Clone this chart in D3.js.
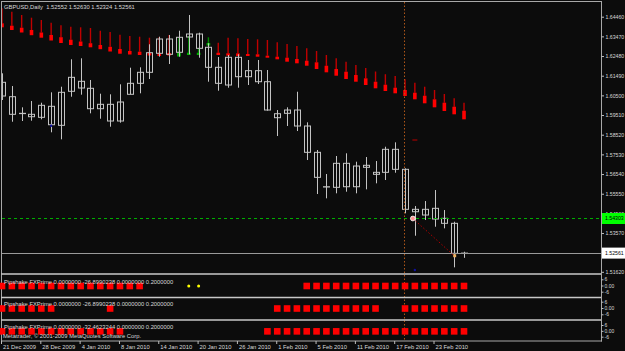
<!DOCTYPE html>
<html><head><meta charset="utf-8">
<script src="https://cdn.jsdelivr.net/npm/d3@7"></script>
<style>
html,body{margin:0;padding:0;background:#0c0c0c;overflow:hidden}
svg{display:block}
</style></head><body>
<svg id="c" width="625" height="351"></svg>
<script>
// ---------- DATA ----------
const dates = ["21 Dec 2009","22 Dec 2009","23 Dec 2009","24 Dec 2009","28 Dec 2009","29 Dec 2009","30 Dec 2009","31 Dec 2009",
"4 Jan 2010","5 Jan 2010","6 Jan 2010","7 Jan 2010","8 Jan 2010","11 Jan 2010","12 Jan 2010","13 Jan 2010","14 Jan 2010","15 Jan 2010",
"18 Jan 2010","19 Jan 2010","20 Jan 2010","21 Jan 2010","22 Jan 2010","25 Jan 2010","26 Jan 2010","27 Jan 2010","28 Jan 2010","29 Jan 2010",
"1 Feb 2010","2 Feb 2010","3 Feb 2010","4 Feb 2010","5 Feb 2010","8 Feb 2010","9 Feb 2010","10 Feb 2010","11 Feb 2010","12 Feb 2010",
"15 Feb 2010","16 Feb 2010","17 Feb 2010","18 Feb 2010","19 Feb 2010","22 Feb 2010","23 Feb 2010","24 Feb 2010","25 Feb 2010","26 Feb 2010"];

const open  = [1.61158,1.60433,1.59597,1.59547,1.59396,1.59950,1.58993,1.60705,1.61208,1.60856,1.59829,1.60050,1.59210,1.60554,1.61107,1.61661,1.62618,1.63337,1.62668,1.63438,1.63589,1.62920,1.61913,1.61022,1.62416,1.61440,1.61742,1.61188,1.59376,1.59597,1.59763,1.58958,1.57634,1.55902,1.55872,1.57080,1.55902,1.56879,1.56627,1.56627,1.57785,1.56778,1.54765,1.54478,1.54815,1.54312,1.54060,1.52552];
const high  = [1.61611,1.60971,1.59899,1.60216,1.60131,1.60654,1.60936,1.62316,1.62366,1.61274,1.60584,1.60554,1.61057,1.61893,1.61913,1.63071,1.63453,1.63539,1.63755,1.64546,1.63655,1.63121,1.62431,1.62532,1.62567,1.62280,1.62280,1.61777,1.59763,1.59899,1.60684,1.59144,1.57750,1.56542,1.57448,1.57584,1.57161,1.57397,1.57196,1.57916,1.58137,1.56829,1.54931,1.55182,1.55736,1.54729,1.54140,1.52630];
const low   = [1.60267,1.59174,1.59210,1.59225,1.59295,1.58641,1.58288,1.60433,1.60534,1.59597,1.59325,1.58923,1.59124,1.60554,1.60604,1.61324,1.62446,1.62079,1.62446,1.62567,1.62396,1.61188,1.60735,1.60886,1.60886,1.61022,1.61072,1.59728,1.58454,1.58958,1.58706,1.57246,1.55535,1.55318,1.55570,1.55651,1.55570,1.55771,1.56073,1.56240,1.56607,1.54563,1.53436,1.54226,1.53889,1.53808,1.51845,1.52324];
const close = [1.60468,1.59547,1.59590,1.59426,1.60000,1.59023,1.60654,1.61409,1.60871,1.59829,1.60050,1.59210,1.60166,1.61107,1.61661,1.62648,1.63337,1.62567,1.63423,1.63589,1.62869,1.61913,1.61107,1.62416,1.61440,1.61742,1.61188,1.59763,1.59577,1.59763,1.58958,1.57634,1.56375,1.55887,1.57080,1.55902,1.56944,1.56980,1.56526,1.57785,1.56778,1.54765,1.54644,1.54765,1.54276,1.54060,1.52550,1.52561];

// trailing-stop style indicator: thin stem top, box top, box bottom
const stemTop   = [1.64883,1.64712,1.64546,1.64410,1.64294,1.64158,1.64027,1.63957,1.63926,1.63891,1.63755,1.63690,1.63554,1.63488,1.63453,1.63403,1.63438,1.63539,1.63388,1.63488,1.62884,1.63423,1.63151,1.63403,1.63373,1.63337,1.63322,1.63287,1.63171,1.63086,1.62985,1.62869,1.62733,1.62532,1.62366,1.62195,1.62029,1.61878,1.61701,1.61565,1.61475,1.61309,1.61138,1.60936,1.60770,1.60569,1.60352,1.60131];
const boxTop    = [1.64128,1.64007,1.63906,1.63791,1.63665,1.63539,1.63428,1.63302,1.63212,1.63126,1.63035,1.62945,1.62834,1.62733,1.62698,1.62633,1.62618,1.62633,1.62648,1.62648,1.62648,1.63136,1.62648,1.62618,1.62618,1.62582,1.62567,1.62497,1.62446,1.62396,1.62331,1.62245,1.62165,1.61993,1.61827,1.61691,1.61525,1.61359,1.61188,1.61037,1.60886,1.60770,1.60634,1.60483,1.60302,1.60131,1.59929,1.59728];
const boxBottom = [1.63926,1.63791,1.63665,1.63529,1.63403,1.63262,1.63136,1.63035,1.62985,1.62920,1.62824,1.62708,1.62597,1.62557,1.62532,1.62507,1.62482,1.62507,1.62457,1.62532,1.62532,1.63010,1.62532,1.62497,1.62482,1.62482,1.62446,1.62396,1.62316,1.62195,1.62114,1.61993,1.61827,1.61661,1.61490,1.61324,1.61188,1.61022,1.60856,1.60720,1.60604,1.60468,1.60302,1.60101,1.59899,1.59713,1.59547,1.59295];
const stemUp    = ["18 Jan 2010","19 Jan 2010","20 Jan 2010","21 Jan 2010"];

// sub-window signals (1 = red block, 2 = yellow dot, 0 = none)
const panel1 = [1,1,1,1,1,1,1,1,1,1,1,1,1,1,1,0,0,0,0,2,2,0,0,0,0,0,0,0,0,0,0,1,1,1,1,1,1,1,1,1,1,1,1,1,1,1,1,1];
const panel2 = [1,1,1,1,1,1,0,0,0,0,0,1,0,0,0,0,0,0,0,0,0,0,0,0,0,0,0,0,1,1,1,1,1,1,1,1,1,1,1,0,0,1,1,1,1,1,1,1];
const panel3 = [1,1,1,1,1,1,1,1,1,1,1,1,1,0,0,0,0,0,0,0,0,0,0,0,0,0,0,1,1,1,1,1,1,1,1,1,1,1,1,1,1,1,1,1,1,1,1,1];
const panelTitles = ["Pipshake FXPrime 0.0000000 -26.8990238 0.0000000 0.2000000",
                     "Pipshake FXPrime 0.0000000 -26.8990238 0.0000000 0.2000000",
                     "Pipshake FXPrime 0.0000000 -32.4623244 0.0000000 0.2000000"];
const panelTicks = [6, 0, -6];

const priceTicks = [1.64460,1.63470,1.62480,1.61490,1.60500,1.59510,1.58520,1.57530,1.56540,1.55550,1.54560,1.53570,1.52580,1.51620];
const dateTicks = ["21 Dec 2009","28 Dec 2009","4 Jan 2010","8 Jan 2010","14 Jan 2010","20 Jan 2010","26 Jan 2010","1 Feb 2010","5 Feb 2010","11 Feb 2010","17 Feb 2010","23 Feb 2010"];

const titleText = "GBPUSD,Daily  1.52552 1.52630 1.52324 1.52561";
const copyright = "Metatrader, \u00a9 2001-2009 MetaQuotes Software Corp.";
const levelPrice = 1.54303;     // green dashed level
const lastPrice = 1.52561;      // current price line
const vLineDate = "18 Feb 2010";
const trendFrom = ["19 Feb 2010", 1.54303];
const trendTo   = ["25 Feb 2010", 1.52429];
const dashMark  = ["19 Feb 2010", 1.58253];
const blueMarks = [["29 Dec 2009", 1.58973], ["19 Feb 2010", 1.51709]];

// ---------- LAYOUT ----------
const W = 625, H = 351;
const L = 2, R = 601, T = 2, B = 273;
const step = 9.83;
const FONT = "'Liberation Sans', Arial, sans-serif";
const FS = 5.8;
const AFS = 5.2;
const TXT = "#d8d8d8";

const svg = d3.select("#c");
svg.append("rect").attr("width", W).attr("height", H).attr("fill", "#0c0c0c");

const x = d3.scalePoint().domain(dates).range([L, L + step * (dates.length - 1)]);
const y = d3.scaleLinear().domain([1.64460, 1.51620]).range([16.7, 271.8]);

svg.append("defs").append("clipPath").attr("id", "mainclip")
  .append("rect").attr("x", L).attr("y", T).attr("width", R - L).attr("height", B - T);
const main = svg.append("g").attr("clip-path", "url(#mainclip)");

// vertical dotted line (through all windows)
svg.append("line").attr("x1", x(vLineDate) - 0.5).attr("x2", x(vLineDate) - 0.5)
  .attr("y1", T).attr("y2", 341).attr("stroke", "#b0581a").attr("stroke-width", 1)
  .attr("stroke-dasharray", "1.5,2");

// indicator stems + boxes
const idx = d3.range(dates.length);
const isUp = i => stemUp.includes(dates[i]);
main.selectAll(".stem").data(idx).join("line")
  .attr("x1", i => x(dates[i])).attr("x2", i => x(dates[i]))
  .attr("y1", i => y(stemTop[i])).attr("y2", i => y(boxTop[i]))
  .attr("stroke", i => isUp(i) ? "#008a00" : "#c00000").attr("stroke-width", 1.4);
main.selectAll(".box").data(idx).join("rect")
  .attr("x", i => x(dates[i]) - 1.8).attr("width", 3.6)
  .attr("y", i => y(boxTop[i])).attr("height", i => Math.max(1.5, y(boxBottom[i]) - y(boxTop[i])))
  .attr("fill", i => isUp(i) ? "#00b000" : "#ff0000");

// candles
const cw = 6;
main.selectAll(".wick").data(idx).join("line")
  .attr("x1", i => Math.round(x(dates[i])) + 0.5).attr("x2", i => Math.round(x(dates[i])) + 0.5)
  .attr("y1", i => y(high[i])).attr("y2", i => y(low[i]))
  .attr("stroke", "#c4c4c4").attr("stroke-width", 1);
main.selectAll(".body").data(idx).join("rect")
  .attr("x", i => Math.round(x(dates[i])) - cw / 2 + 0.5).attr("width", cw)
  .attr("y", i => y(Math.max(open[i], close[i])))
  .attr("height", i => Math.max(0.3, Math.abs(y(open[i]) - y(close[i]))))
  .attr("fill", "#0c0c0c").attr("fill-opacity", 0)
  .attr("stroke", "#c4c4c4").attr("stroke-width", 1);

// green level line, current price line
main.append("line").attr("x1", L).attr("x2", R).attr("y1", y(levelPrice)).attr("y2", y(levelPrice))
  .attr("stroke", "#00b000").attr("stroke-width", 1).attr("stroke-dasharray", "3,3");
main.append("line").attr("x1", L).attr("x2", R).attr("y1", Math.round(y(lastPrice)) + 0.5).attr("y2", Math.round(y(lastPrice)) + 0.5)
  .attr("stroke", "#9a9a9a").attr("stroke-width", 1);

// trend line & markers
main.append("line").attr("x1", x(trendFrom[0]) - 2).attr("y1", y(trendFrom[1]))
  .attr("x2", x(trendTo[0])).attr("y2", y(trendTo[1]))
  .attr("stroke", "#b00000").attr("stroke-width", 1).attr("stroke-dasharray", "1.5,2");
main.append("circle").attr("cx", x(trendFrom[0]) - 2).attr("cy", y(trendFrom[1])).attr("r", 2.4)
  .attr("fill", "#ff9090").attr("stroke", "#ffffff").attr("stroke-width", 0.8);
main.append("rect").attr("x", x(trendTo[0]) - 1).attr("y", y(trendTo[1]) - 1.5).attr("width", 3).attr("height", 3)
  .attr("fill", "#f0b060");
main.append("line").attr("x1", x(dashMark[0]) - 2.5).attr("x2", x(dashMark[0]) + 2.5)
  .attr("y1", y(dashMark[1])).attr("y2", y(dashMark[1])).attr("stroke", "#a00000").attr("stroke-width", 1.2);
main.selectAll(".blue").data(blueMarks).join("circle")
  .attr("cx", d => x(d[0])).attr("cy", d => y(d[1])).attr("r", 1.2).attr("fill", "#1010a0");

// title
svg.append("text").attr("x", 4).attr("y", 9).attr("font-family", FONT).attr("font-size", FS)
  .attr("fill", TXT).attr("xml:space", "preserve").style("white-space", "pre").text(titleText);

// ---------- FRAMES ----------
const frame = "#a8a8a8";
svg.append("line").attr("x1", 1).attr("x2", R).attr("y1", 1.5).attr("y2", 1.5).attr("stroke", frame);
svg.append("line").attr("x1", 1.5).attr("x2", 1.5).attr("y1", 1).attr("y2", 341).attr("stroke", frame);
svg.append("line").attr("x1", R + 0.5).attr("x2", R + 0.5).attr("y1", 1).attr("y2", 341.5).attr("stroke", frame);
[274, 297.5, 320].forEach(v => {
  svg.append("line").attr("x1", 1).attr("x2", R).attr("y1", v).attr("y2", v)
    .attr("stroke", "#c8c8c8").attr("stroke-width", 1.6);
});
svg.append("line").attr("x1", 1).attr("x2", R + 1).attr("y1", 341).attr("y2", 341).attr("stroke", frame);

// ---------- PRICE AXIS ----------
const gR = svg.append("g").attr("transform", `translate(${R + 0.5},0)`)
  .call(d3.axisRight(y).tickValues(priceTicks).tickFormat(d3.format(".5f")).tickSize(2.5).tickPadding(1.5));
gR.select(".domain").remove();
gR.attr("font-family", FONT).attr("font-size", AFS);
gR.selectAll("line").attr("stroke", "#c0c0c0");
gR.selectAll("text").attr("fill", TXT);

// price labels
function priceLabel(p, bg, fg) {
  const g = svg.append("g").attr("transform", `translate(${R + 1},${y(p)})`);
  g.append("rect").attr("x", 0).attr("y", -5.5).attr("width", 24).attr("height", 11).attr("fill", bg);
  g.append("text").attr("x", 3).attr("y", 0).attr("dy", "0.34em").attr("font-family", FONT)
    .attr("font-size", AFS).attr("fill", fg).text(d3.format(".5f")(p));
}
priceLabel(levelPrice, "#00ff00", "#000000");
priceLabel(lastPrice, "#ffffff", "#000000");

// ---------- SUB WINDOWS ----------
const panels = [
  { sig: panel1, top: 279.3, bot: 291.7, tY: 283.6 },
  { sig: panel2, top: 301.7, bot: 314.3, tY: 306.0 },
  { sig: panel3, top: 325.0, bot: 336.7, tY: 328.6 }
];
panels.forEach((p, k) => {
  const py = d3.scaleLinear().domain([6, -6]).range([p.top, p.bot]);
  const g = svg.append("g");
  const sz = 6.6;
  g.selectAll("rect").data(idx.filter(i => p.sig[i] === 1)).join("rect")
    .attr("x", i => x(dates[i]) - sz / 2).attr("y", py(0) - sz / 2 + 0.5)
    .attr("width", sz).attr("height", sz).attr("fill", "#ff0000");
  g.selectAll("circle").data(idx.filter(i => p.sig[i] === 2)).join("circle")
    .attr("cx", i => x(dates[i])).attr("cy", py(0) + 0.5).attr("r", 1.5).attr("fill", "#ffff00");
  g.append("text").attr("x", 4).attr("y", p.tY).attr("font-family", FONT).attr("font-size", FS)
    .attr("fill", TXT).text(panelTitles[k]);
  const ax = svg.append("g").attr("transform", `translate(${R + 0.5},0)`)
    .call(d3.axisRight(py).tickValues(panelTicks).tickFormat(d => d === 0 ? "0.00" : String(d)).tickSize(2).tickPadding(1));
  ax.select(".domain").remove();
  ax.attr("font-family", FONT).attr("font-size", 5.0);
  ax.selectAll("line").attr("stroke", "#c0c0c0");
  ax.selectAll("text").attr("fill", TXT);
});
svg.append("text").attr("x", 3).attr("y", 338.2).attr("font-family", FONT).attr("font-size", FS)
  .attr("fill", TXT).text(copyright);

// ---------- DATE AXIS ----------
const gB = svg.append("g").attr("transform", "translate(-1,341)")
  .call(d3.axisBottom(x).tickValues(dateTicks).tickSize(3).tickPadding(0));
gB.select(".domain").remove();
gB.attr("font-family", FONT).attr("font-size", FS);
gB.selectAll("line").attr("stroke", "#c0c0c0");
gB.selectAll("text").attr("fill", TXT).attr("text-anchor", "start").attr("x", 1.5).attr("y", 3.4);
</script>
</body></html>
